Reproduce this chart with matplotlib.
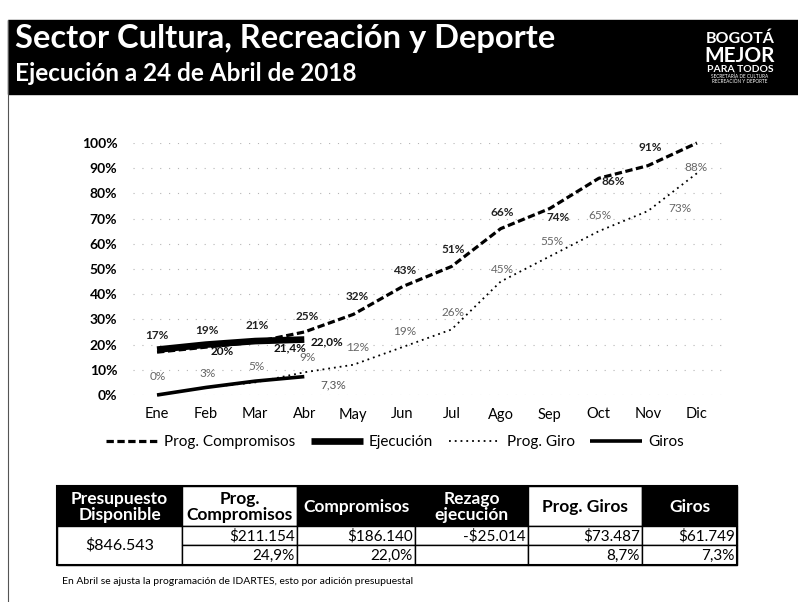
import matplotlib
matplotlib.use("Agg")
import matplotlib.pyplot as plt
from matplotlib.patches import Rectangle

plt.rcParams['font.family'] = ['Lato', 'DejaVu Sans']

# ---- datos de la grafica (porcentaje acumulado) ----
meses = ["Ene", "Feb", "Mar", "Abr", "May", "Jun", "Jul", "Ago", "Sep", "Oct", "Nov", "Dic"]
prog_compromisos = [17, 19, 21, 25, 32, 43, 51, 66, 74, 86, 91, 100]
ejecucion = [18, 20, 21.4, 22.0]
prog_giro = [0, 3, 5, 9, 12, 19, 26, 45, 55, 65, 73, 88]
giros = [0, 3, 5.5, 7.3]

# ---- tabla resumen (millones) ----
encabezados = ["Presupuesto\nDisponible", "Prog.\nCompromisos", "Compromisos",
               "Rezago\nejecución", "Prog. Giros", "Giros"]
presupuesto = "$846.543"
valores = ["$211.154", "$186.140", "-$25.014", "$73.487", "$61.749"]
porcentajes = ["24,9%", "22,0%", "", "8,7%", "7,3%"]
nota = "En Abril se ajusta la programación de IDARTES, esto por adición presupuestal"

W, H = 798, 602
fig = plt.figure(figsize=(W / 100, H / 100), dpi=100)

# capa de pagina en pixeles (encabezado, tabla, nota)
page = fig.add_axes([0, 0, 1, 1], zorder=0)
page.set_xlim(0, W)
page.set_ylim(H, 0)
page.axis("off")

# encabezado negro
page.add_patch(Rectangle((8, 20), W - 8, 74, color="black"))
page.plot([8, 8], [20, H], color="#555555", lw=0.8)
page.text(15, 48, "Sector Cultura, Recreación y Deporte", color="white",
          fontsize=23.5, fontweight="bold", va="baseline")
page.text(15, 81, "Ejecución a 24 de Abril de 2018", color="white",
          fontsize=17.5, fontweight="bold", va="baseline")
# logo
page.text(740, 43, "BOGOTÁ", color="white", fontsize=11.5, fontweight="bold",
          ha="center", va="baseline")
page.text(740, 62, "MEJOR", color="white", fontsize=15, fontweight="bold",
          ha="center", va="baseline")
page.text(740, 72, "PARA TODOS", color="white", fontsize=7.5, fontweight="bold",
          ha="center", va="baseline")
page.text(740, 78, "SECRETARÍA DE CULTURA", color="white", fontsize=3.4,
          ha="center", va="baseline")
page.text(740, 83, "RECREACIÓN Y DEPORTE", color="white", fontsize=3.4,
          ha="center", va="baseline")

# ---- grafica ----
x0, x1, ytop, ybot = 132.5, 721.5, 143, 395
ax = fig.add_axes([x0 / W, 1 - ybot / H, (x1 - x0) / W, (ybot - ytop) / H], zorder=2)
ax.set_facecolor("none")
x = list(range(len(meses)))

ax.plot(x, prog_compromisos, color="black", lw=2.3, ls=(0, (2.3, 1.1)),
        label="Prog. Compromisos", clip_on=False, zorder=3)
ax.plot(x[:len(ejecucion)], ejecucion, color="black", lw=4.8,
        solid_capstyle="butt", label="Ejecución", clip_on=False, zorder=4)
ax.plot(x, prog_giro, color="black", lw=1.3, ls=(0, (1, 2.2)),
        label="Prog. Giro", clip_on=False, zorder=3)
ax.plot(x[:len(giros)], giros, color="black", lw=2.6,
        solid_capstyle="butt", label="Giros", clip_on=False, zorder=4)

# etiquetas de datos (desplazamiento en pixeles)
off_comp = [(0, 17), (1, 17), (2, 17), (3, 15), (4, 18), (2, 16), (2, 17),
            (2, 16), (8, -9), (14, -3), (2, 18), None]
off_ejec = [None, (16, -7), (35, -7), (23, -2)]
off_pgiro = [(1, 18), (1, 14), (1, 16), (3, 15), (4, 17), (2, 16), (1, 17),
             (2, 12), (2, 15), (1, 16), (32, 3), (-1, 6)]
off_giros = [None, None, None, (29, -8)]


def etiquetar(serie, offsets, fmt, color, weight):
    for i, (v, off) in enumerate(zip(serie, offsets)):
        if off is None:
            continue
        ax.annotate(fmt(v), (i, v), xytext=off, textcoords="offset pixels",
                    ha="center", va="center", fontsize=8.5, color=color,
                    fontweight=weight, zorder=5, annotation_clip=False)


def coma(v):
    return f"{v:.1f}%".replace(".", ",")


etiquetar(prog_compromisos, off_comp, lambda v: f"{v:.0f}%", "#222222", "bold")
etiquetar(ejecucion, off_ejec, lambda v: coma(v) if v % 1 or v == 22 else f"{v:.0f}%",
          "#111111", "bold")
etiquetar(prog_giro, off_pgiro, lambda v: f"{v:.0f}%", "#666666", "normal")
etiquetar(giros, off_giros, coma, "#555555", "normal")

ax.set_xlim(-0.5, 11.5)
ax.set_ylim(0, 100)
ax.set_yticks(range(0, 101, 10))
ax.set_yticklabels([f"{v}%" for v in range(0, 101, 10)], fontsize=10,
                   fontweight="bold")
ax.set_xticks(x)
ax.set_xticklabels(meses, fontsize=10.5)
ax.tick_params(length=0)
ax.tick_params(axis="y", pad=11)
ax.tick_params(axis="x", pad=9)
for s in ax.spines.values():
    s.set_visible(False)
ax.grid(axis="y", color="#b5b5b5", ls=(0, (1, 7)), lw=0.8)

fig.legend(loc="center", bbox_to_anchor=(395 / W, 1 - 442 / H), ncol=4,
           frameon=False, fontsize=11, handlelength=3.4, handletextpad=0.4,
           columnspacing=1.0)

# ---- tabla ----
cols = [57, 182, 297, 415, 528, 642, 737]
r0, r1, r2, r3 = 486, 526, 545, 565
blancos = {1, 4}
for j, enc in enumerate(encabezados):
    xa, xb = cols[j], cols[j + 1]
    fondo = "white" if j in blancos else "black"
    texto = "black" if j in blancos else "white"
    page.add_patch(Rectangle((xa, r0), xb - xa, r1 - r0, facecolor=fondo,
                             edgecolor="black", lw=1))
    page.text((xa + xb) / 2, (r0 + r1) / 2 + 1, enc, color=texto, fontsize=12.5,
              fontweight="bold", ha="center", va="center", linespacing=1.0)

page.add_patch(Rectangle((cols[0], r1), cols[1] - cols[0], r3 - r1,
                         facecolor="white", edgecolor="black", lw=1))
page.text((cols[0] + cols[1]) / 2, (r1 + r3) / 2, presupuesto, fontsize=11.5,
          ha="center", va="center")
for j in range(5):
    xa, xb = cols[j + 1], cols[j + 2]
    for (ya, yb), txt in (((r1, r2), valores[j]), ((r2, r3), porcentajes[j])):
        page.add_patch(Rectangle((xa, ya), xb - xa, yb - ya, facecolor="white",
                                 edgecolor="black", lw=1))
        page.text(xb - 2, (ya + yb) / 2 + 0.5, txt, fontsize=11, ha="right",
                  va="center")
page.add_patch(Rectangle((cols[0], r0), cols[-1] - cols[0], r3 - r0,
                         fill=False, edgecolor="black", lw=1.5))

page.text(62, 582, nota, fontsize=7.5, va="center")

fig.savefig("out.png", dpi=100)
